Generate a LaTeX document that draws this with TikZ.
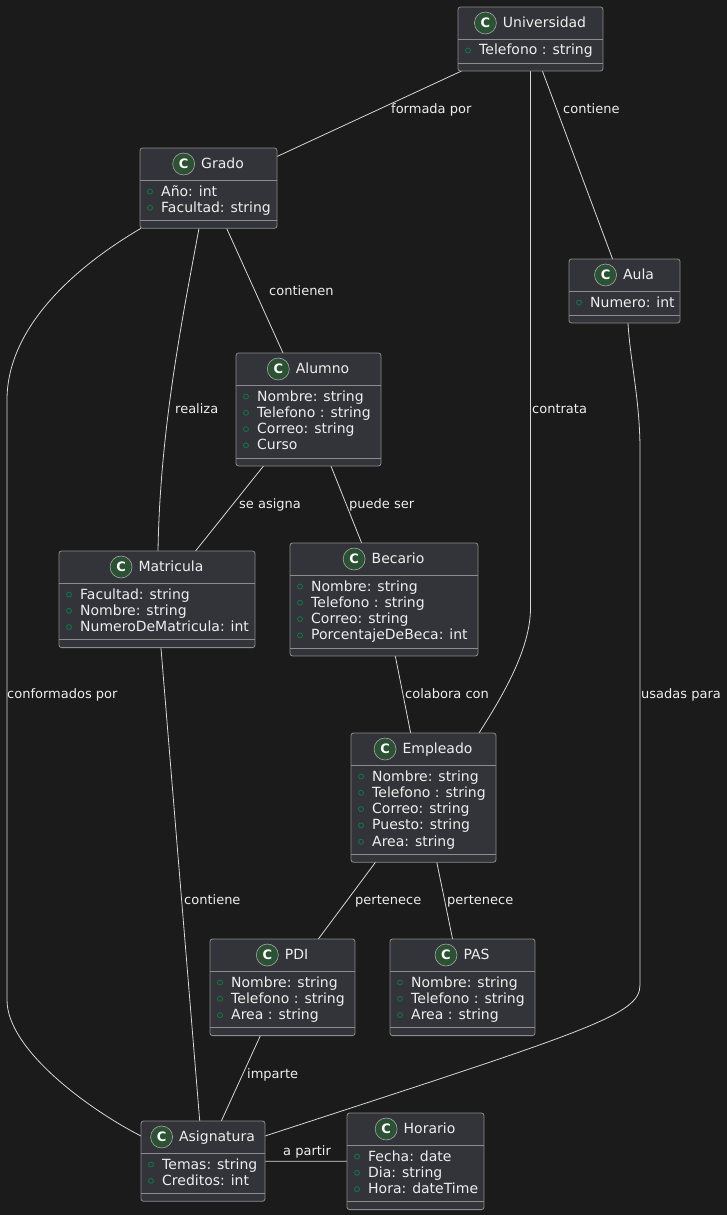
\documentclass[tikz,border=0pt]{standalone}
\usepackage{fontspec}
\setmainfont{DejaVu Sans}
\usetikzlibrary{positioning}
\usetikzlibrary{backgrounds}

\definecolor{bgdark}{RGB}{27,27,27}
\definecolor{boxfill}{RGB}{51,51,58}
\definecolor{boxline}{RGB}{140,140,140}
\definecolor{edgeline}{RGB}{215,215,215}
\definecolor{iconfill}{RGB}{44,82,52}
\definecolor{bulletgreen}{RGB}{20,120,70}
\definecolor{txt}{RGB}{238,238,238}

\tikzset{
    classbox/.style={rectangle, draw=boxline, fill=boxfill, line width=0.8pt, rounded corners=2.5pt, inner sep=0, outer sep=0},
    sepline/.style={draw=boxline, line width=0.8pt},
    classtitle/.style={inner sep=0, text=txt, font=\fontsize{14}{16}\selectfont, text height=10pt, text depth=1pt},
    classicon/.style={circle, draw=gray!70, fill=iconfill, line width=0.6pt, minimum size=22pt, inner sep=0, text=white, font=\fontsize{13}{15}\selectfont\bfseries},
    bullet/.style={circle, draw=bulletgreen, line width=0.8pt, minimum size=5pt, inner sep=0},
    attr/.style={inner sep=0, text=txt, font=\fontsize{14}{16}\selectfont, text height=10pt, text depth=1pt},
    lbl/.style={inner sep=0, anchor=west, text=txt, font=\fontsize{13}{15}\selectfont, text height=9.5pt, text depth=1pt},
    assoc/.style={draw=edgeline, line width=0.8pt}
}

% #1 name, #2 left, #3 top, #4 width, #5 title, #6 attributes
\newcommand{\umlclass}[6]{%
    \gdef\nattr{0}%
    \foreach \a in {#6} {\pgfmathtruncatemacro\tmpn{\nattr+1}\global\let\nattr\tmpn}%
    \pgfmathsetmacro\boxh{40+7.7+16.3*\nattr}%
    \node[classbox, minimum width=#4pt, minimum height=\boxh pt, anchor=north west] (#1) at (#2,#3) {};
    \draw[sepline] ([yshift=-32pt]#1.north west) -- ([yshift=-32pt]#1.north east);
    \draw[sepline] ([yshift=8pt]#1.south west) -- ([yshift=8pt]#1.south east);
    \node[classtitle] (#1-title) at ([xshift=14pt, yshift=-16pt]#1.north) {#5};
    \node[classicon, left=6pt of #1-title] (#1-icon) {C};
    \foreach \a [count=\i] in {#6} {
        \pgfmathsetmacro\rowy{-43.5-16.3*(\i-1)}
        \node[bullet] (#1-b\i) at ([xshift=10pt, yshift=\rowy pt]#1.north west) {};
        \node[attr, anchor=west] (#1-a\i) at ([xshift=21pt, yshift=\rowy pt]#1.north west) {\a};
    }
}

\begin{document}
\begin{tikzpicture}[x=1pt, y=-1pt]
    \begin{scope}[on background layer]
        \fill[bgdark] (0,0) rectangle (727,1215);
    \end{scope}
    \useasboundingbox (0,0) rectangle (727,1215);

    % classes
    \umlclass{univ}{458}{7}{145}{Universidad}{Telefono : string}
    \umlclass{grado}{140}{148}{137}{Grado}{Año: int, Facultad: string}
    \umlclass{aula}{569}{259}{111}{Aula}{Numero: int}
    \umlclass{alumno}{236}{353}{145}{Alumno}{Nombre: string, Telefono : string, Correo: string, Curso}
    \umlclass{matricula}{59}{551}{196}{Matricula}{Facultad: string, Nombre: string, NumeroDeMatricula: int}
    \umlclass{becario}{290}{543}{188}{Becario}{Nombre: string, Telefono : string, Correo: string, PorcentajeDeBeca: int}
    \umlclass{empleado}{351}{733}{145}{Empleado}{Nombre: string, Telefono : string, Correo: string, Puesto: string, Area: string}
    \umlclass{pdi}{210}{939}{145}{PDI}{Nombre: string, Telefono : string, Area : string}
    \umlclass{pas}{390}{939}{145}{PAS}{Nombre: string, Telefono : string, Area : string}
    \umlclass{asig}{141}{1121}{124}{Asignatura}{Temas: string, Creditos: int}
    \umlclass{horario}{347}{1113}{137}{Horario}{Fecha: date, Dia: string, Hora: dateTime}

    % associations
    \begin{scope}[on background layer]
        \draw[assoc] (univ) -- (grado);
        \draw[assoc] (univ) -- (aula);
        \draw[assoc] (univ.south) -- (530.5,607) .. controls (531,650) and (500,700) .. ([xshift=-17pt]empleado.north east);
        \draw[assoc] (grado) -- (alumno);
        \draw[assoc] ([xshift=-9.5pt]grado.south) .. controls (182,320) and (160,430) .. ([xshift=1pt]matricula.north);
        \draw[assoc] ([xshift=1pt]grado.south west) .. controls (70,270) and (7,330) .. (7,400) -- (7,1000) .. controls (7,1050) and (90,1110) .. ([yshift=-15pt]asig.north west);
        \draw[assoc] (alumno) -- (matricula);
        \draw[assoc] (alumno) -- (becario);
        \draw[assoc] (becario) -- (empleado);
        \draw[assoc] ([xshift=3.5pt]aula.south) .. controls (630,360) and (640,400) .. (640,450) -- (640,985) .. controls (640,1015) and (590,1030) .. ([yshift=-15pt]asig.north east);
        \draw[assoc] (matricula) -- (asig);
        \draw[assoc] (empleado) -- (pdi);
        \draw[assoc] (empleado) -- (pas);
        \draw[assoc] (pdi) -- (asig);
        \draw[assoc] (asig) -- (horario);
    \end{scope}

    % association labels
    \node[lbl] (l-formada) at (391,109) {formada por};
    \node[lbl] (l-contieneaula) at (563,109) {contiene};
    \node[lbl] (l-contrata) at (532,409) {contrata};
    \node[lbl] (l-contienen) at (269,291) {contienen};
    \node[lbl] (l-realiza) at (175,409) {realiza};
    \node[lbl] (l-conformados) at (7,694) {conformados por};
    \node[lbl] (l-asigna) at (239,504) {se asigna};
    \node[lbl] (l-puede) at (349,504) {puede ser};
    \node[lbl] (l-colabora) at (405,694) {colabora con};
    \node[lbl] (l-usadas) at (641,694) {usadas para};
    \node[lbl] (l-contieneasig) at (184,900) {contiene};
    \node[lbl] (l-pertpdi) at (355,900) {pertenece};
    \node[lbl] (l-pertpas) at (447,900) {pertenece};
    \node[lbl] (l-imparte) at (247,1074) {imparte};
    \node[lbl] (l-partir) at (283,1151) {a partir};
\end{tikzpicture}
\end{document}
